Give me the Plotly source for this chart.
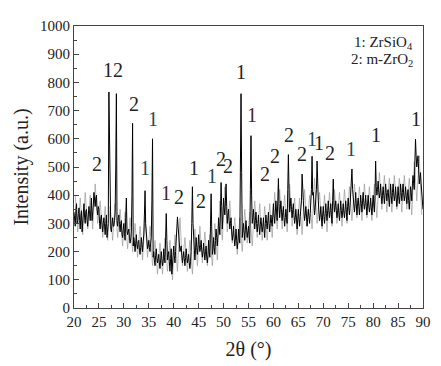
import plotly.graph_objects as go

# 2-theta start and step (degrees)
theta_start = 20.0
theta_step = 0.125

# Intensity at the quarter-degree points 20.00, 20.25, ...
intensity_main = [
    340, 290, 370, 310,
    355, 280, 345, 300,
    370, 300, 350, 290,
    360, 310, 390, 330,
    410, 360, 400, 330,
    350, 280, 330, 270,
    320, 260, 330, 280,
    766, 300, 270, 320,
    290, 340, 760, 290,
    330, 270, 310, 250,
    300, 240, 390, 260,
    280, 230, 270, 655,
    250, 200, 260, 210,
    240, 190, 250, 200,
    260, 416, 270, 210,
    240, 200, 250, 600,
    200, 150, 210, 160,
    190, 140, 200, 150,
    210, 160, 335, 170,
    200, 130, 210, 150,
    220, 160, 240, 323,
    260, 200, 220, 160,
    200, 150, 210, 160,
    190, 140, 200, 430,
    230, 170, 250, 190,
    260, 200, 240, 180,
    230, 170, 220, 160,
    240, 180, 405, 190,
    250, 190, 280, 220,
    320, 260, 445, 280,
    390, 330, 440, 300,
    350, 280, 320, 240,
    290, 220, 280, 210,
    280, 230, 760, 250,
    300, 240, 310, 250,
    290, 230, 611, 300,
    350, 280, 340, 270,
    330, 260, 320, 270,
    320, 250, 330, 280,
    340, 270, 330, 290,
    370, 300, 380, 310,
    459, 320, 380, 310,
    360, 290, 350, 300,
    544, 340, 390, 320,
    370, 300, 350, 280,
    350, 290, 360, 475,
    380, 310, 360, 290,
    350, 300, 370, 538,
    410, 330, 380, 521,
    380, 310, 360, 290,
    360, 300, 370, 310,
    380, 320, 370, 300,
    457, 340, 380, 320,
    370, 310, 380, 320,
    370, 320, 380, 310,
    390, 330, 400, 493,
    400, 340, 410, 330,
    390, 330, 400, 340,
    410, 350, 400, 330,
    400, 340, 390, 330,
    400, 340, 521, 400,
    450, 390, 440, 370,
    430, 370, 440, 380,
    420, 360, 440, 370,
    440, 380, 430, 360,
    430, 370, 440, 380,
    440, 380, 430, 370,
    420, 350, 430, 380,
    470, 420, 598, 500,
    540, 440, 480, 400,
    350,
]

# Intensity read at the in-between points 20.125, 20.375, ...
intensity_mid = [
    320, 345, 300, 335,
    310, 330, 270, 325,
    320, 345, 310, 330,
    335, 350, 310, 365,
    385, 390, 350, 360,
    300, 320, 295, 300,
    290, 300, 250, 300,
    520, 280, 300, 290,
    310, 500, 310, 320,
    295, 300, 260, 280,
    265, 320, 280, 270,
    250, 245, 400, 220,
    230, 230, 225, 235,
    205, 215, 225, 235,
    330, 300, 230, 220,
    215, 230, 380, 180,
    170, 185, 180, 175,
    160, 170, 175, 165,
    180, 250, 240, 190,
    165, 175, 120, 185,
    185, 200, 270, 290,
    230, 210, 185, 180,
    175, 180, 185, 175,
    160, 165, 300, 300,
    200, 205, 215, 220,
    225, 215, 205, 200,
    195, 200, 180, 190,
    200, 290, 280, 210,
    215, 240, 250, 260,
    290, 340, 360, 330,
    355, 380, 360, 330,
    310, 300, 270, 260,
    250, 245, 240, 235,
    250, 500, 480, 280,
    270, 280, 275, 270,
    250, 420, 400, 320,
    310, 310, 300, 300,
    290, 295, 290, 290,
    280, 300, 300, 310,
    300, 300, 305, 330,
    330, 340, 340, 380,
    370, 350, 340, 340,
    320, 320, 320, 420,
    420, 360, 350, 350,
    330, 320, 315, 315,
    320, 325, 380, 380,
    340, 330, 330, 320,
    325, 335, 420, 400,
    370, 355, 420, 400,
    340, 330, 320, 330,
    325, 335, 335, 345,
    345, 345, 330, 380,
    380, 360, 345, 340,
    335, 345, 345, 340,
    340, 350, 340, 360,
    355, 365, 420, 420,
    365, 370, 365, 370,
    360, 365, 370, 380,
    375, 370, 360, 365,
    365, 360, 355, 365,
    365, 400, 430, 420,
    415, 410, 400, 400,
    400, 405, 410, 410,
    390, 400, 400, 410,
    405, 400, 390, 390,
    395, 400, 410, 410,
    405, 400, 400, 400,
    380, 390, 410, 440,
    440, 520, 540, 520,
    490, 460, 440, 380,
]

# Light-grey noise fringe at 20.25, 20.75, 21.25, ...
fringe_start = 20.25
fringe_step = 0.5
intensity_fringe = [
    400, 270, 390, 260, 410, 280, 400, 280, 440, 300,
    380, 250, 360, 240, 360, 240, 370, 250, 350, 220,
    340, 210, 320, 200, 300, 180, 290, 170, 320, 180,
    290, 150, 240, 120, 230, 120, 250, 130, 240, 100,
    260, 130, 320, 150, 250, 130, 240, 120, 280, 150,
    290, 160, 270, 150, 260, 150, 300, 170, 380, 240,
    430, 270, 380, 230, 320, 190, 320, 200, 350, 230,
    340, 220, 380, 250, 370, 240, 360, 240, 370, 250,
    410, 280, 420, 280, 400, 270, 440, 290, 390, 260,
    390, 260, 420, 290, 400, 280, 460, 300, 410, 280,
    400, 270, 410, 290, 420, 300, 410, 290, 420, 300,
    430, 310, 440, 320, 430, 310, 440, 320, 430, 310,
    440, 320, 480, 350, 470, 340, 460, 340, 470, 350,
    460, 340, 470, 350, 460, 330, 520, 380, 540, 330,
]
fringe_theta = [fringe_start + i * fringe_step for i in range(len(intensity_fringe))]

intensity = []
for i, v in enumerate(intensity_main):
    intensity.append(v)
    if i < len(intensity_mid):
        intensity.append(intensity_mid[i])
two_theta = [theta_start + i * theta_step for i in range(len(intensity))]

# Phase labels
label_text = ["2", "12", "2", "1", "1", "1", "2", "1", "1", "2", "2", "2", "1", "1",
              "2", "2", "2", "2", "1", "1", "2", "1", "1", "1"]
label_x = [24.6, 27.8, 32.1, 35.9, 34.2, 38.5, 41.0, 44.0, 47.6, 45.4, 49.4, 50.9, 53.5, 55.7,
           58.3, 60.3, 63.1, 65.8, 67.7, 69.1, 71.4, 75.6, 80.6, 88.5]
label_y = [510, 843, 724, 671, 496, 409, 392, 496, 468, 381, 528, 503, 836, 685,
           475, 538, 615, 545, 601, 584, 549, 563, 615, 671]
label_color = ["#222", "#222", "#222", "#1d4b55", "#1d4b55", "#4a2520", "#222", "#222", "#1d4b55", "#222",
               "#222", "#222", "#222", "#4a2520", "#222", "#222", "#222", "#222", "#1d4b55", "#222",
               "#222", "#1d4b55", "#222", "#222"]

legend_lines = ["1: ZrSiO<sub>4</sub>", "2: m-ZrO<sub>2</sub>"]

x_ticks = list(range(20, 91, 5))
y_ticks = list(range(0, 1001, 100))

FONT = "Liberation Serif, Times New Roman, serif"

fig = go.Figure()
fig.add_trace(go.Scatter(x=fringe_theta, y=intensity_fringe, mode="lines",
                         line=dict(color="#9a9a9a", width=0.7), showlegend=False,
                         hoverinfo="skip"))
fig.add_trace(go.Scatter(x=two_theta, y=intensity, mode="lines",
                         line=dict(color="black", width=1.0), showlegend=False,
                         hoverinfo="skip"))

for t, x, y, c in zip(label_text, label_x, label_y, label_color):
    fig.add_annotation(x=x, y=y, text=t, showarrow=False, xanchor="center", yanchor="middle",
                       font=dict(family=FONT, size=20, color=c))

legend_y = [0.94, 0.878]
for t, y in zip(legend_lines, legend_y):
    fig.add_annotation(xref="paper", yref="paper", x=0.978, y=y, text=t,
                       showarrow=False, xanchor="right", yanchor="middle",
                       font=dict(family=FONT, size=15, color="#222"))

axis_common = dict(showline=True, linecolor="#444", linewidth=1, mirror=True,
                   ticks="inside", ticklen=5, tickcolor="#444", showgrid=False, zeroline=False,
                   tickfont=dict(family=FONT, size=15, color="#222"))

fig.update_xaxes(range=[20, 90], tickvals=x_ticks,
                 minor=dict(ticks="inside", ticklen=3, dtick=2.5, tick0=20, tickcolor="#444"),
                 title=dict(text="2θ (°)", font=dict(family=FONT, size=20, color="#222"), standoff=12),
                 **axis_common)
fig.update_yaxes(range=[0, 1000], tickvals=y_ticks,
                 minor=dict(ticks="inside", ticklen=3, dtick=50, tick0=0, tickcolor="#444"),
                 title=dict(text="Intensity (a.u.)", font=dict(family=FONT, size=20, color="#222"), standoff=6),
                 **axis_common)

# The page body adds an 8px margin, so the figure is made 8px smaller on each side used
fig.update_layout(width=433, height=358, margin=dict(l=66, r=14, t=10, b=54),
                  plot_bgcolor="white", paper_bgcolor="white",
                  font=dict(family=FONT))

fig.write_html("out.html")
